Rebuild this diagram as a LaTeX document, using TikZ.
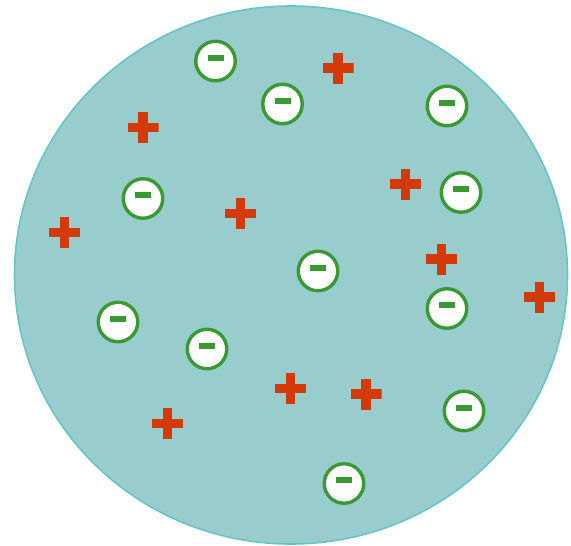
\documentclass[tikz,border=0pt]{standalone}
\usetikzlibrary{shapes.geometric}
\definecolor{bgteal}{HTML}{99CCCC}
\definecolor{edgeteal}{HTML}{66C6C6}
\definecolor{egreen}{HTML}{3A9A32}
\definecolor{pred}{HTML}{D43A08}
\tikzset{
  sphere/.style={ellipse, draw=edgeteal, fill=bgteal, line width=1.6pt, inner sep=0pt,
    minimum width=553pt, minimum height=538pt},
  electron/.style={circle, draw=egreen, fill=white, line width=3.4pt, inner sep=0pt,
    minimum size=39.5pt,
    path picture={\fill[egreen] ([xshift=-8pt,yshift=0.5pt]path picture bounding box.center)
      rectangle ++(16pt,6pt);}},
  proton/.style={rectangle, inner sep=0pt, minimum size=31pt,
    path picture={
      \fill[pred] ([xshift=-15.5pt,yshift=-4.75pt]path picture bounding box.center) rectangle ++(31pt,9.5pt);
      \fill[pred] ([xshift=-4.75pt,yshift=-15.5pt]path picture bounding box.center) rectangle ++(9.5pt,31pt);}}
}
\begin{document}
\begin{tikzpicture}[x=1pt,y=-1pt]
\useasboundingbox (0,0) rectangle (571,546);
\node[sphere] (ball) at (291,275) {};
% electrons
\node[electron] (e1) at (215.5,61) {};
\node[electron] (e2) at (282.5,104) {};
\node[electron] (e3) at (447,106) {};
\node[electron] (e4) at (143,198.5) {};
\node[electron] (e5) at (461,192.5) {};
\node[electron] (e6) at (318,271) {};
\node[electron] (e7) at (447,308.5) {};
\node[electron] (e8) at (118,322) {};
\node[electron] (e9) at (207,349) {};
\node[electron] (e10) at (464,411) {};
\node[electron] (e11) at (344,483.5) {};
% protons
\node[proton] (p1) at (338,68) {};
\node[proton] (p2) at (143,127.5) {};
\node[proton] (p3) at (405.5,184) {};
\node[proton] (p4) at (240.5,213.5) {};
\node[proton] (p5) at (64.5,232.5) {};
\node[proton] (p6) at (441.5,259) {};
\node[proton] (p7) at (539.5,297) {};
\node[proton] (p8) at (290.5,388.5) {};
\node[proton] (p9) at (366,394) {};
\node[proton] (p10) at (167.5,423.5) {};
\end{tikzpicture}
\end{document}
